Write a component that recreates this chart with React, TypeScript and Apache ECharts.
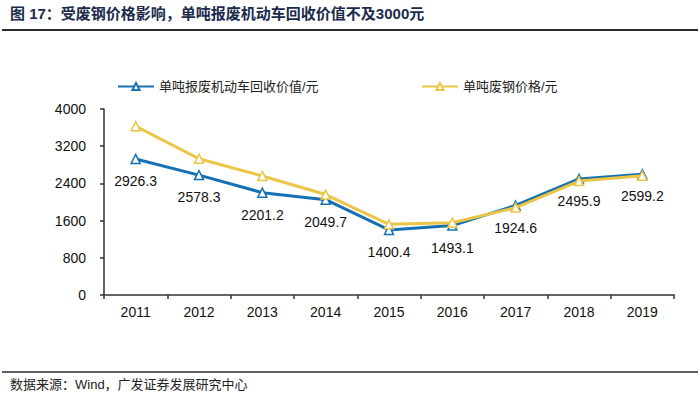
import React, { useEffect, useRef } from "react";
import * as echarts from "echarts";

const categories = ["2011", "2012", "2013", "2014", "2015", "2016", "2017", "2018", "2019"];
const vehicleValue = [2926.3, 2578.3, 2201.2, 2049.7, 1400.4, 1493.1, 1924.6, 2495.9, 2599.2];
const scrapSteelPrice = [3630, 2930, 2560, 2160, 1520, 1555, 1880, 2450, 2565];
const yTicks = [0, 800, 1600, 2400, 3200, 4000];

const seriesNames = ["单吨报废机动车回收价值/元", "单吨废钢价格/元"];
const BLUE = "#1570b4";
const YELLOW = "#ebc545";
const FONT = "Arial, 'Liberation Sans', 'Noto Sans CJK SC', sans-serif";

export default function App() {
  const ref = useRef<HTMLDivElement>(null);
  useEffect(() => {
    if (!ref.current) return;
    const chart = echarts.init(ref.current, undefined, { renderer: "svg" });
    chart.setOption({
      animation: false,
      backgroundColor: "#ffffff",
      textStyle: { fontFamily: FONT },
      graphic: [
        {
          type: "text",
          left: 10,
          top: 6,
          style: {
            text: "图 17：受废钢价格影响，单吨报废机动车回收价值不及3000元",
            font: "bold 15px Arial, 'Noto Sans CJK SC', sans-serif",
            fill: "#1b2b4b",
          },
        },
        {
          type: "line",
          shape: { x1: 2, y1: 30, x2: 698, y2: 30 },
          style: { stroke: "#2a2a2a", lineWidth: 2 },
        },
        {
          type: "line",
          shape: { x1: 2, y1: 372, x2: 698, y2: 372 },
          style: { stroke: "#2a2a2a", lineWidth: 1.5 },
        },
        {
          type: "text",
          left: 10,
          top: 378,
          style: {
            text: "数据来源：Wind，广发证券发展研究中心",
            font: "13px Arial, 'Noto Sans CJK SC', sans-serif",
            fill: "#222222",
          },
        },
      ],
      legend: [
        {
          data: [seriesNames[0]],
          left: 112,
          top: 75,
          itemWidth: 36,
          itemHeight: 9,
          itemGap: 4,
          textStyle: { fontSize: 13, color: "#222", fontFamily: FONT },
        },
        {
          data: [seriesNames[1]],
          left: 416,
          top: 75,
          itemWidth: 36,
          itemHeight: 9,
          textStyle: { fontSize: 13, color: "#222", fontFamily: FONT },
        },
      ],
      grid: { left: 104, right: 26, top: 109, bottom: 110, containLabel: false },
      xAxis: {
        type: "category",
        data: categories,
        boundaryGap: true,
        axisLine: { lineStyle: { color: "#333", width: 1.5 } },
        axisTick: { show: true, length: 4, inside: false, lineStyle: { color: "#333", width: 1.5 } },
        axisLabel: { color: "#111", fontSize: 14, margin: 10, fontFamily: FONT },
      },
      yAxis: {
        type: "value",
        min: yTicks[0],
        max: yTicks[yTicks.length - 1],
        interval: 800,
        splitLine: { show: false },
        axisLine: { show: true, lineStyle: { color: "#333", width: 1.5 } },
        axisTick: { show: true, length: 4, lineStyle: { color: "#333", width: 1.5 } },
        axisLabel: {
          color: "#111",
          fontSize: 14,
          margin: 18,
          fontFamily: FONT,
          formatter: (v: number) => String(v),
        },
      },
      series: [
        {
          name: seriesNames[0],
          type: "line",
          data: vehicleValue,
          symbol: "triangle",
          symbolSize: 9,
          itemStyle: { color: "#ffffff", borderColor: BLUE, borderWidth: 1.5 },
          lineStyle: { color: BLUE, width: 3 },
          label: {
            show: true,
            position: "bottom",
            distance: 10,
            color: "#111",
            fontSize: 14,
            fontFamily: FONT,
            formatter: (p: any) => Number(p.value).toFixed(1),
          },
          z: 2,
        },
        {
          name: seriesNames[1],
          type: "line",
          data: scrapSteelPrice,
          symbol: "triangle",
          symbolSize: 9,
          itemStyle: { color: "#ffffff", borderColor: YELLOW, borderWidth: 1.5 },
          lineStyle: { color: YELLOW, width: 3 },
          z: 3,
        },
      ],
    });
    return () => chart.dispose();
  }, []);
  return (
    <div
      ref={ref}
      style={{ position: "fixed", left: 0, top: 0, width: 700, height: 405 }}
    />
  );
}
